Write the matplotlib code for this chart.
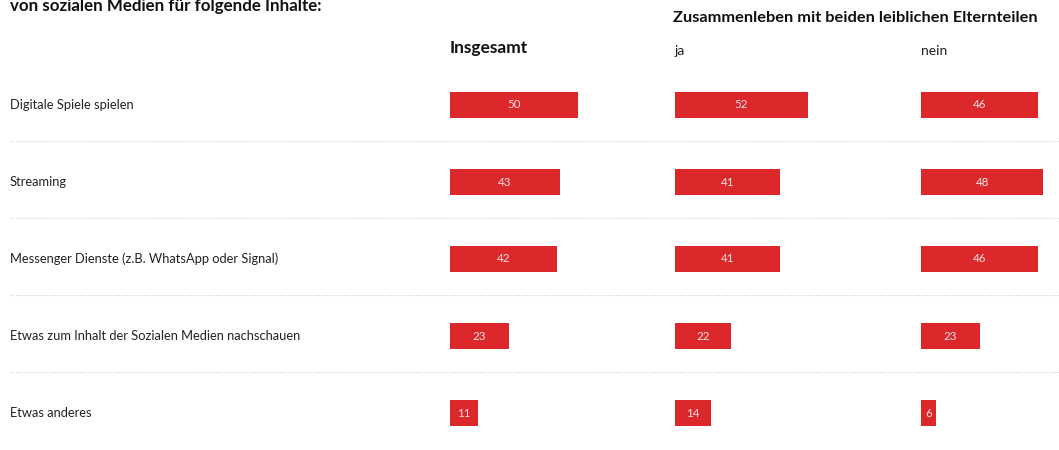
import matplotlib.pyplot as plt

# Data
categories = [
    "Digitale Spiele spielen",
    "Streaming",
    "Messenger Dienste (z.B. WhatsApp oder Signal)",
    "Etwas zum Inhalt der Sozialen Medien nachschauen",
    "Etwas anderes",
]
insgesamt = [50, 43, 42, 23, 11]
ja = [52, 41, 41, 22, 14]
nein = [46, 48, 46, 23, 6]

columns = ["Insgesamt", "ja", "nein"]
series = [insgesamt, ja, nein]

plt.rcParams["font.family"] = ["Lato", "DejaVu Sans"]

W, H = 1059, 450
fig = plt.figure(figsize=(W / 100, H / 100), dpi=100)

bar_color = "#dc282a"
text_color = "#222222"
px_per_unit = 2.55
row_top_px = 105
row_step_px = 77

# y limits so row i sits at row_top_px + i * row_step_px (pixels from top)
y_top = -row_top_px / row_step_px
y_bottom = (H - row_top_px) / row_step_px
ylim = (y_bottom, y_top)
rows = list(range(len(categories)))

# Background axes for labels and separator lines
bg = fig.add_axes([0, 0, 1, 1])
bg.set_xlim(0, W)
bg.set_ylim(*ylim)
bg.axis("off")
for i in rows[:-1]:
    bg.plot([10, W], [i + 0.47, i + 0.47], color="#cfcfcf", lw=0.8,
            linestyle=(0, (1, 1.5)))
for i, cat in enumerate(categories):
    bg.text(10, i, cat, fontsize=9.3, color=text_color,
            ha="left", va="center")

# Header texts
fig.text(10 / W, 1 - 6 / H, "von sozialen Medien für folgende Inhalte:",
         fontsize=12.2, fontweight="bold", color="#111111", ha="left", va="center")
fig.text(673 / W, 1 - 18 / H, "Zusammenleben mit beiden leiblichen Elternteilen",
         fontsize=11.8, fontweight="bold", color="#111111", ha="left", va="center")
fig.text(450 / W, 1 - 48 / H, "Insgesamt", fontsize=12.5, fontweight="bold",
         color="#111111", ha="left", va="center")
fig.text(675 / W, 1 - 51 / H, "ja", fontsize=10, color=text_color,
         ha="left", va="center")
fig.text(921 / W, 1 - 51 / H, "nein", fontsize=10, color=text_color,
         ha="left", va="center")

# Bar panels
col_left_px = [450, 675, 921]
panel_width_px = 135
for left, vals in zip(col_left_px, series):
    ax = fig.add_axes([left / W, 0, panel_width_px / W, 1])
    ax.set_xlim(0, panel_width_px / px_per_unit)
    ax.set_ylim(*ylim)
    ax.axis("off")
    bars = ax.barh(rows, vals, height=0.35, color=bar_color, edgecolor="none")
    for bar, v in zip(bars, vals):
        ax.text(bar.get_width() / 2, bar.get_y() + bar.get_height() / 2,
                str(v), fontsize=8.3, color="#fbe4e4", ha="center", va="center")

fig.savefig("out.png", dpi=100)
